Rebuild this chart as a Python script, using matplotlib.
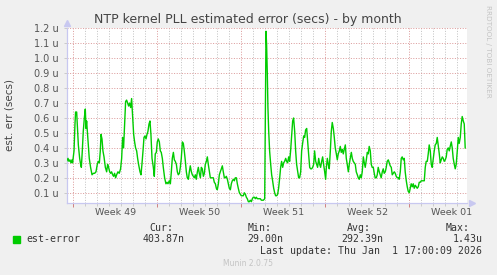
import matplotlib
matplotlib.use("Agg")
import matplotlib.pyplot as plt
from matplotlib.ticker import FixedLocator, NullFormatter

# days since Mon 1 Dec 2025 00:00, values in micro-seconds
t_days = [-0.56, -0.44, -0.36, -0.28, -0.19, -0.11, -0.06, 0.06, 0.14, 0.19,
          0.28, 0.33, 0.42, 0.53, 0.61, 0.67, 0.75, 0.83, 0.92, 1.00,
          1.06, 1.11, 1.17, 1.25, 1.33, 1.44, 1.56, 1.67, 1.78, 1.89,
          2.00, 2.08, 2.17, 2.25, 2.31, 2.39, 2.47, 2.56, 2.67, 2.78,
          2.86, 2.94, 3.03, 3.11, 3.19, 3.28, 3.36, 3.44, 3.53, 3.61,
          3.72, 3.83, 3.94, 4.03, 4.11, 4.19, 4.28, 4.36, 4.44, 4.53,
          4.61, 4.69, 4.78, 4.86, 4.94, 5.03, 5.11, 5.19, 5.28, 5.36,
          5.44, 5.56, 5.64, 5.72, 5.81, 5.89, 5.97, 6.06, 6.14, 6.22,
          6.31, 6.39, 6.47, 6.56, 6.67, 6.75, 6.83, 6.92, 7.00, 7.08,
          7.17, 7.25, 7.33, 7.42, 7.50, 7.61, 7.72, 7.81, 7.89, 8.00,
          8.09, 8.17, 8.25, 8.34, 8.42, 8.50, 8.59, 8.67, 8.75, 8.84,
          8.92, 9.00, 9.09, 9.17, 9.25, 9.34, 9.42, 9.50, 9.59, 9.67,
          9.75, 9.84, 9.92, 10.00, 10.09, 10.17, 10.25, 10.34, 10.42, 10.50,
          10.59, 10.67, 10.75, 10.84, 10.92, 11.00, 11.09, 11.17, 11.25, 11.34,
          11.42, 11.50, 11.59, 11.67, 11.75, 11.84, 11.92, 12.00, 12.09, 12.17,
          12.25, 12.34, 12.42, 12.50, 12.59, 12.67, 12.75, 12.84, 12.92, 13.00,
          13.09, 13.17, 13.25, 13.34, 13.42, 13.50, 13.59, 13.67, 13.75, 13.84,
          13.92, 14.00, 14.09, 14.17, 14.25, 14.34, 14.42, 14.50, 14.59, 14.67,
          14.75, 14.84, 14.92, 15.00, 15.09, 15.17, 15.25, 15.34, 15.42, 15.50,
          15.59, 15.67, 15.75, 15.84, 15.95, 16.06, 16.11, 16.17, 16.22, 16.28,
          16.36, 16.45, 16.53, 16.61, 16.70, 16.78, 16.86, 16.95, 17.03, 17.11,
          17.20, 17.28, 17.36, 17.45, 17.53, 17.61, 17.70, 17.78, 17.86, 17.95,
          18.03, 18.11, 18.20, 18.28, 18.36, 18.45, 18.53, 18.61, 18.70, 18.78,
          18.86, 18.95, 19.03, 19.11, 19.20, 19.28, 19.36, 19.45, 19.53, 19.61,
          19.70, 19.78, 19.86, 19.95, 20.03, 20.11, 20.20, 20.28, 20.36, 20.45,
          20.53, 20.61, 20.70, 20.78, 20.86, 20.95, 21.03, 21.08, 21.17, 21.25,
          21.33, 21.42, 21.50, 21.58, 21.67, 21.75, 21.83, 21.92, 22.00, 22.08,
          22.17, 22.25, 22.33, 22.42, 22.50, 22.58, 22.67, 22.75, 22.83, 22.92,
          23.00, 23.08, 23.17, 23.25, 23.33, 23.42, 23.50, 23.58, 23.67, 23.75,
          23.83, 23.92, 24.00, 24.08, 24.17, 24.25, 24.33, 24.42, 24.50, 24.58,
          24.66, 24.75, 24.83, 24.91, 25.00, 25.08, 25.16, 25.25, 25.33, 25.41,
          25.50, 25.58, 25.66, 25.75, 25.83, 25.91, 26.00, 26.08, 26.16, 26.25,
          26.33, 26.41, 26.50, 26.58, 26.66, 26.75, 26.83, 26.91, 27.00, 27.08,
          27.16, 27.25, 27.33, 27.41, 27.50, 27.58, 27.66, 27.75, 27.83, 27.91,
          28.00, 28.08, 28.16, 28.25, 28.33, 28.41, 28.50, 28.58, 28.66, 28.75,
          28.83, 28.91, 29.00, 29.08, 29.16, 29.25, 29.33, 29.41, 29.50, 29.58,
          29.66, 29.75, 29.83, 29.91, 30.00, 30.08, 30.16, 30.25, 30.33, 30.41,
          30.50, 30.58, 30.66, 30.75, 30.83, 30.91, 31.00, 31.08, 31.16, 31.25,
          31.33, 31.41, 31.50, 31.58, 31.66, 31.75, 31.83, 31.91, 32.00, 32.08,
          32.16, 32.25, 32.33, 32.41, 32.50, 32.58, 32.66]

est_err_u = [0.31, 0.33, 0.31, 0.32, 0.30, 0.32, 0.30, 0.38, 0.56, 0.64,
             0.64, 0.56, 0.42, 0.33, 0.29, 0.27, 0.38, 0.51, 0.60, 0.66,
             0.53, 0.58, 0.51, 0.42, 0.33, 0.27, 0.22, 0.23, 0.23, 0.24,
             0.29, 0.31, 0.30, 0.38, 0.49, 0.46, 0.38, 0.34, 0.27, 0.24,
             0.29, 0.27, 0.24, 0.23, 0.24, 0.22, 0.21, 0.23, 0.20, 0.22,
             0.24, 0.23, 0.26, 0.33, 0.47, 0.40, 0.56, 0.71, 0.72, 0.70,
             0.68, 0.70, 0.67, 0.73, 0.62, 0.49, 0.44, 0.40, 0.38, 0.33,
             0.29, 0.24, 0.22, 0.29, 0.38, 0.47, 0.48, 0.46, 0.49, 0.51,
             0.56, 0.58, 0.49, 0.33, 0.27, 0.21, 0.36, 0.37, 0.44, 0.46,
             0.44, 0.38, 0.37, 0.33, 0.27, 0.20, 0.16, 0.17, 0.16, 0.18,
             0.16, 0.24, 0.33, 0.37, 0.32, 0.31, 0.29, 0.24, 0.22, 0.23,
             0.27, 0.33, 0.44, 0.43, 0.38, 0.31, 0.24, 0.20, 0.19, 0.24,
             0.28, 0.24, 0.22, 0.21, 0.20, 0.22, 0.19, 0.24, 0.27, 0.23,
             0.20, 0.27, 0.26, 0.21, 0.23, 0.29, 0.31, 0.34, 0.29, 0.24,
             0.20, 0.20, 0.20, 0.20, 0.17, 0.16, 0.13, 0.12, 0.16, 0.22,
             0.24, 0.26, 0.28, 0.24, 0.20, 0.20, 0.21, 0.19, 0.16, 0.13,
             0.12, 0.16, 0.18, 0.19, 0.18, 0.20, 0.20, 0.16, 0.13, 0.10,
             0.09, 0.08, 0.08, 0.08, 0.10, 0.09, 0.07, 0.06, 0.04, 0.04,
             0.05, 0.04, 0.06, 0.07, 0.07, 0.06, 0.07, 0.06, 0.06, 0.06,
             0.06, 0.05, 0.05, 0.05, 0.06, 1.18, 1.09, 0.89, 0.67, 0.52,
             0.38, 0.29, 0.22, 0.18, 0.13, 0.10, 0.08, 0.08, 0.09, 0.13,
             0.20, 0.27, 0.31, 0.27, 0.30, 0.31, 0.33, 0.31, 0.30, 0.34,
             0.31, 0.38, 0.49, 0.58, 0.60, 0.51, 0.38, 0.29, 0.24, 0.20,
             0.20, 0.24, 0.38, 0.43, 0.48, 0.47, 0.52, 0.53, 0.44, 0.36,
             0.27, 0.26, 0.26, 0.27, 0.29, 0.38, 0.31, 0.29, 0.27, 0.33,
             0.29, 0.27, 0.31, 0.34, 0.29, 0.24, 0.19, 0.26, 0.33, 0.29,
             0.26, 0.38, 0.51, 0.57, 0.53, 0.47, 0.40, 0.36, 0.32, 0.36,
             0.38, 0.41, 0.37, 0.39, 0.36, 0.39, 0.42, 0.33, 0.29, 0.24,
             0.29, 0.33, 0.37, 0.33, 0.31, 0.30, 0.29, 0.24, 0.22, 0.20,
             0.19, 0.22, 0.20, 0.24, 0.34, 0.30, 0.27, 0.32, 0.37, 0.36,
             0.41, 0.38, 0.29, 0.27, 0.27, 0.23, 0.20, 0.20, 0.22, 0.27,
             0.24, 0.22, 0.20, 0.24, 0.26, 0.23, 0.24, 0.27, 0.31, 0.32,
             0.30, 0.28, 0.27, 0.22, 0.23, 0.24, 0.23, 0.21, 0.20, 0.20,
             0.19, 0.24, 0.33, 0.34, 0.32, 0.33, 0.24, 0.18, 0.14, 0.11,
             0.10, 0.13, 0.16, 0.14, 0.16, 0.13, 0.15, 0.14, 0.13, 0.14,
             0.17, 0.17, 0.18, 0.18, 0.18, 0.18, 0.27, 0.31, 0.31, 0.36,
             0.42, 0.38, 0.29, 0.27, 0.33, 0.38, 0.42, 0.43, 0.47, 0.42,
             0.36, 0.30, 0.32, 0.34, 0.33, 0.31, 0.32, 0.34, 0.39, 0.40,
             0.38, 0.41, 0.44, 0.40, 0.33, 0.29, 0.26, 0.29, 0.38, 0.47,
             0.43, 0.47, 0.56, 0.61, 0.58, 0.56, 0.40]

week_starts = [0, 7, 14, 21, 28]
week_labels = ["Week 49", "Week 50", "Week 51", "Week 52", "Week 01"]
y_ticks = [0.1, 0.2, 0.3, 0.4, 0.5, 0.6, 0.7, 0.8, 0.9, 1.0, 1.1, 1.2]

stats_names = ["Cur:", "Min:", "Avg:", "Max:"]
stats_values = ["403.87n", "29.00n", "292.39n", "1.43u"]

GREEN = "#00cc00"
AXIS = "#c8c8f0"
MGRID = "#dc9c9c"
GRID = "#c4c4c4"
TEXT = "#555555"

fig = plt.figure(figsize=(4.97, 2.75), dpi=100, facecolor="#f0f0f0")
ax = fig.add_axes([66.7 / 497, 1 - 202.7 / 275, 400.3 / 497, 174.4 / 275])
ax.set_facecolor("white")

ax.plot(t_days, est_err_u, color=GREEN, lw=1.0, zorder=3)

ax.set_xlim(-0.55, 32.81)
ax.set_ylim(0.0334, 1.2)

# grid
for d in range(0, 33):
    c = MGRID if d in week_starts else GRID
    ax.axvline(d, color=c, lw=0.72, ls=(0, (1, 1.6)), zorder=1)
for y in y_ticks:
    ax.axhline(y, color=MGRID, lw=0.72, ls=(0, (1, 1.6)), zorder=1)

for s in ["top", "right"]:
    ax.spines[s].set_visible(False)
for s in ["left", "bottom"]:
    ax.spines[s].set_color(AXIS)
    ax.spines[s].set_linewidth(0.9)

# axis arrows
ax.plot([0], [1.03], marker="^", ms=4, color=AXIS, transform=ax.transAxes, clip_on=False)
ax.plot([1.012], [0], marker=">", ms=4, color=AXIS, transform=ax.transAxes, clip_on=False)

ax.set_yticks(y_ticks)
ax.set_yticklabels(["%.1f u" % v for v in y_ticks], fontsize=7, color=TEXT)
ax.tick_params(axis="y", length=2, width=0.6, color=GRID, pad=4)

ax.xaxis.set_major_locator(FixedLocator(week_starts))
ax.xaxis.set_major_formatter(NullFormatter())
ax.xaxis.set_minor_locator(FixedLocator([d for d in range(0, 33) if d not in week_starts]))
ax.tick_params(axis="x", which="major", length=3, width=0.7, color="#d08080")
ax.tick_params(axis="x", which="minor", length=2, width=0.6, color=GRID)
for ws, lab in zip(week_starts, week_labels):
    ax.text(ws + 3.5, -0.055, lab, transform=ax.get_xaxis_transform(),
            ha="center", va="center", fontsize=6.8, color=TEXT)

fig.text(248 / 497, 1 - 19 / 275, "NTP kernel PLL estimated error (secs) - by month",
         ha="center", va="center", fontsize=9, color="#444444")
fig.text(10 / 497, 1 - 115 / 275, "est. err (secs)", rotation=90,
         ha="center", va="center", fontsize=7.5, color="#444444")
fig.text(488 / 497, 1 - 5 / 275, "RRDTOOL / TOBI OETIKER", rotation=-90,
         ha="center", va="top", fontsize=5.2, color="#c4c4c4")

# legend
mono = "DejaVu Sans Mono"
fig.patches.append(plt.Rectangle((13.3 / 497, 1 - 242.5 / 275), 6.5 / 497, 6.5 / 275,
                                 transform=fig.transFigure, color=GREEN))
fig.text(26 / 497, 1 - 239.5 / 275, "est-error", family=mono, fontsize=7.1,
         color="#333333", va="center", ha="left")
name_x = [161, 260, 359, 458]
value_right = [185, 283.3, 383.3, 482.3]
for nm, nx, val, vr in zip(stats_names, name_x, stats_values, value_right):
    fig.text(nx / 497, 1 - 227.7 / 275, nm, family=mono, fontsize=7.1,
             color="#333333", va="center", ha="center")
    fig.text(vr / 497, 1 - 239.5 / 275, val, family=mono, fontsize=7.1,
             color="#333333", va="center", ha="right")
fig.text(482.3 / 497, 1 - 251 / 275, "Last update: Thu Jan  1 17:00:09 2026",
         family=mono, fontsize=7.1, color="#333333", va="center", ha="right")
fig.text(248 / 497, 1 - 264 / 275, "Munin 2.0.75", fontsize=5.5,
         color="#c4c4c4", va="center", ha="center")

fig.savefig("out.png", dpi=100, facecolor=fig.get_facecolor())
